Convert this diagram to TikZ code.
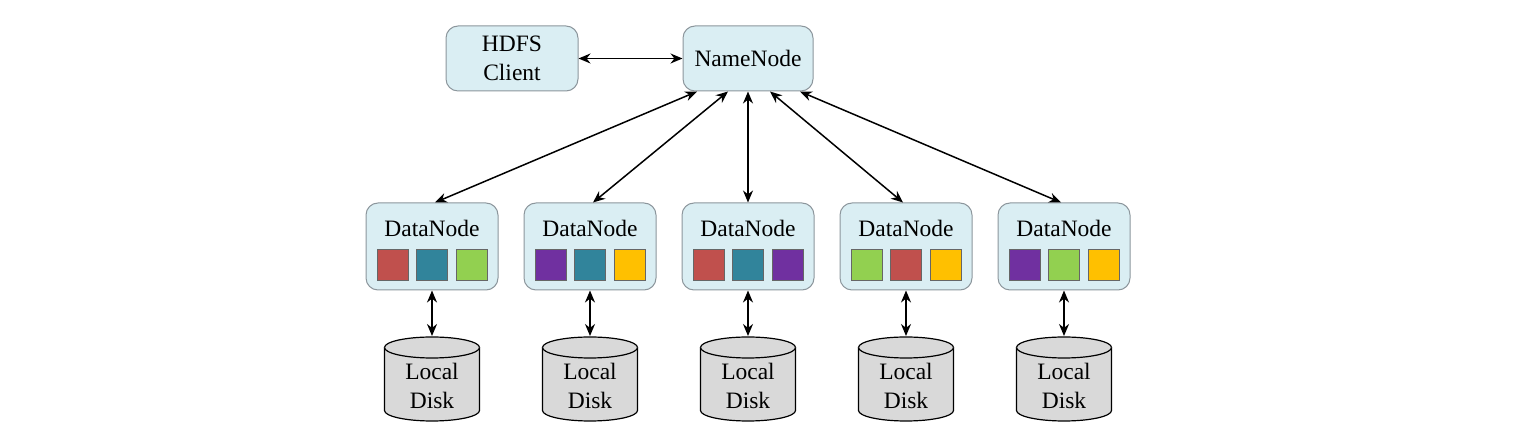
\documentclass[tikz,border=0pt]{standalone}
\usepackage{fontspec}
\setmainfont{Liberation Serif}
\usetikzlibrary{arrows.meta,calc}
\definecolor{boxfill}{HTML}{DAEEF3}
\definecolor{boxline}{HTML}{8C969C}
\definecolor{cred}{HTML}{C0504D}
\definecolor{cteal}{HTML}{31849B}
\definecolor{cgreen}{HTML}{92D050}
\definecolor{cpurple}{HTML}{7030A0}
\definecolor{cyellow}{HTML}{FFC000}
\definecolor{diskfill}{HTML}{D9D9D9}
\tikzset{
  hbox/.style={draw=boxline, fill=boxfill, line width=1pt, rounded corners=12pt,
    font=\fontsize{23.5}{29}\selectfont, align=center, inner sep=0pt},
  blk/.style={draw=black!60, line width=0.6pt, minimum size=31pt, inner sep=0pt},
  lbl/.style={font=\fontsize{23.5}{29}\selectfont, align=center, inner sep=0pt},
  conn/.style={line width=1.5pt, {Stealth[length=12pt,width=10pt]}-{Stealth[length=12pt,width=10pt]}},
  diskshape/.style={draw=black, fill=diskfill, line width=1.2pt}
}
\begin{document}
\begin{tikzpicture}[x=1pt,y=1pt]
\useasboundingbox (0,0) rectangle (1522,433);
\node[hbox, minimum width=132pt, minimum height=65pt] (client) at (512,374.5) {HDFS\\Client};
\node[hbox, minimum width=130pt, minimum height=65pt] (nn) at (748,374.5) {NameNode};
\draw[conn] (client.east) -- (nn.west);
\foreach \i/\x/\ca/\cb/\cc/\dx in {1/432/cred/cteal/cgreen/-51, 2/590/cpurple/cteal/cyellow/-20, 3/748/cred/cteal/cpurple/0, 4/906/cgreen/cred/cyellow/22, 5/1064/cpurple/cgreen/cyellow/52}{
  \node[hbox, minimum width=132pt, minimum height=87pt] (dn\i) at (\x,186.5) {};
  \node[lbl] (dt\i) at (\x,205) {DataNode};
  \node[blk, fill=\ca] (sa\i) at (\x-39.5,168.5) {};
  \node[blk, fill=\cb] (sb\i) at (\x,168.5) {};
  \node[blk, fill=\cc] (sc\i) at (\x+39.5,168.5) {};
  \draw[diskshape] (\x-47.5,85.5) -- (\x-47.5,22.5)
     arc[start angle=180,end angle=360,x radius=47.5pt,y radius=10.5pt]
     -- (\x+47.5,85.5)
     arc[start angle=0,end angle=180,x radius=47.5pt,y radius=10.5pt] -- cycle;
  \draw[diskshape] (\x+47.5,85.5) arc[start angle=0,end angle=-180,x radius=47.5pt,y radius=10.5pt];
  \coordinate (disk\i) at (\x,97);
  \node[lbl] (dl\i) at (\x,47.5) {Local\\Disk};
  \draw[conn] (dn\i.south) -- (disk\i);
  \draw[conn] ([xshift=3*sign(-\dx)*1pt]dn\i.north) -- ([xshift=\dx*1pt]nn.south);
}
\end{tikzpicture}
\end{document}
